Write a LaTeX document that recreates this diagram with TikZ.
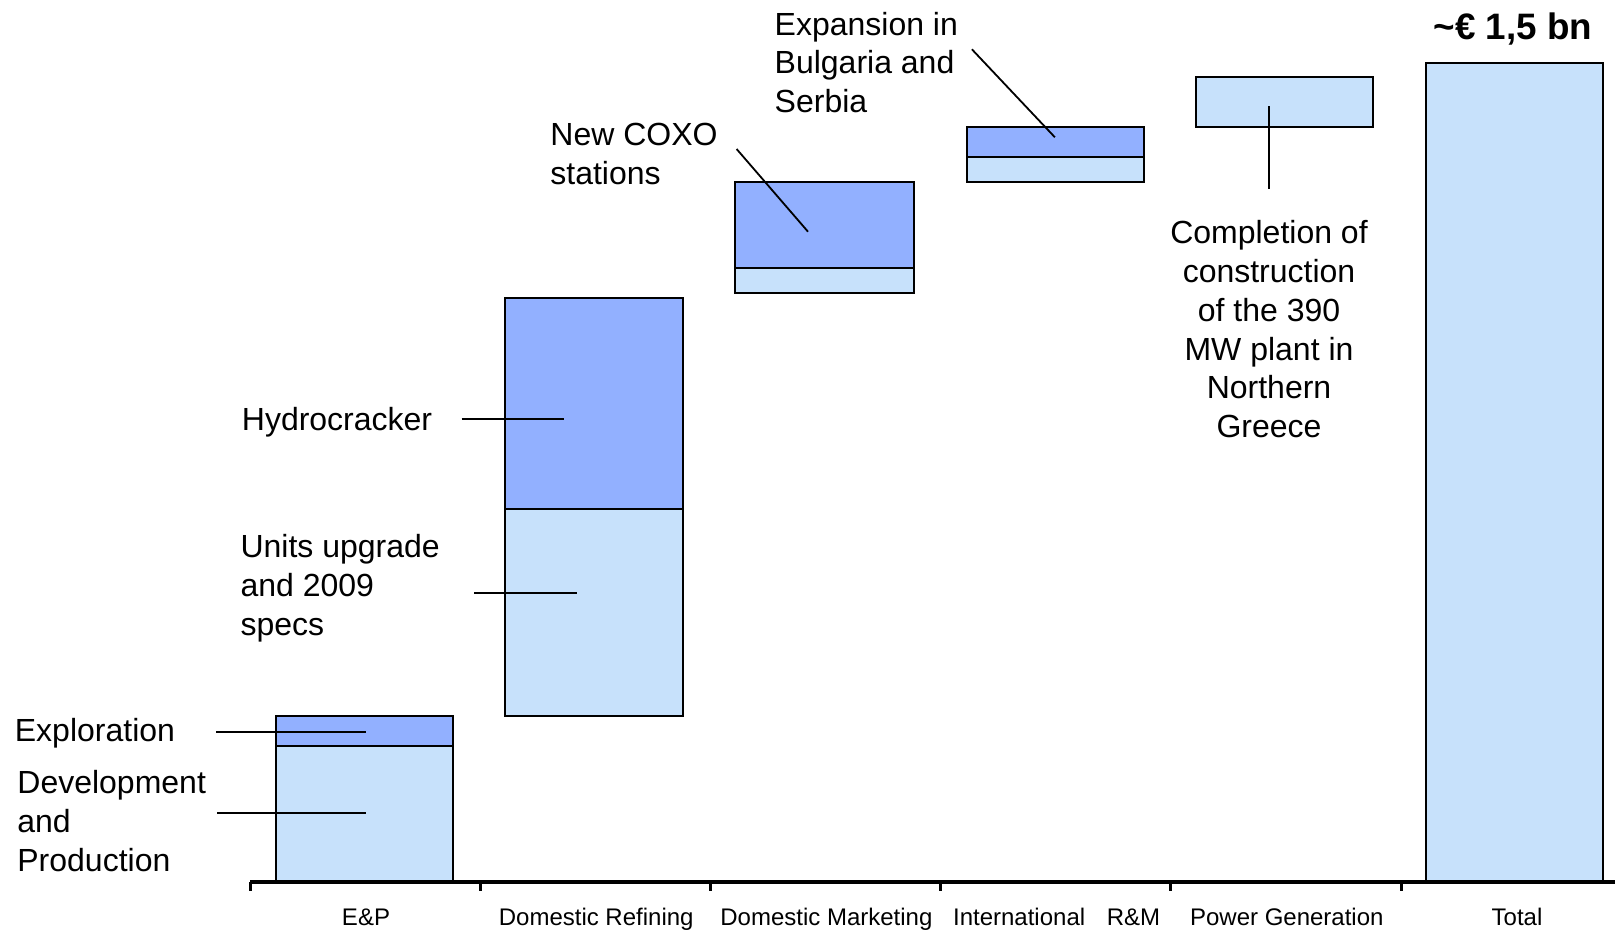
\documentclass[tikz,border=0pt]{standalone}
\usepackage{fontspec}
\setmainfont{Liberation Sans}
\usetikzlibrary{positioning,calc}
\definecolor{capdark}{RGB}{146,176,255}
\definecolor{caplight}{RGB}{199,225,251}
\tikzset{  seg/.style={draw,line width=1pt},
  dseg/.style={seg,fill=capdark},
  lseg/.style={seg,fill=caplight},
  lbl/.style={inner sep=0pt,font=\fontsize{16}{19.4}\selectfont,align=left},
  catlbl/.style={inner sep=0pt,anchor=base,font=\fontsize{12}{14}\selectfont},
  lead/.style={line width=0.9pt} }

\begin{document}
\begin{tikzpicture}[x=0.5pt,y=-0.5pt]
    \useasboundingbox (0,0) rectangle (1615,932);
    % bars
    \draw[lseg] (275.7,745.7) rectangle (453.3,881);
    \draw[dseg] (275.7,716) rectangle (453.3,745.7);
    \draw[lseg] (505.3,509.3) rectangle (682.7,715.7);
    \draw[dseg] (505.3,298.3) rectangle (682.7,509.3);
    \draw[lseg] (735.3,268.3) rectangle (914.3,293.3);
    \draw[dseg] (735.3,182) rectangle (914.3,268.3);
    \draw[lseg] (966.5,156.7) rectangle (1144.2,182);
    \draw[dseg] (966.5,127) rectangle (1144.2,156.7);
    \draw[lseg] (1195.7,77.3) rectangle (1373.3,127.3);
    \draw[lseg] (1425.7,63.3) rectangle (1603.3,881);
    % axis
    \draw[line width=2pt] (250,882) -- (1615,882);
    \foreach \i in {0,...,5}
      \draw[line width=1.5pt] ({250+230.2*\i},882) -- ++(0,9);
    \foreach \name [count=\i from 0] in {E\&P,Domestic Refining,Domestic Marketing,International\hspace{0.9em}R\&M,Power Generation,Total}
      \node[catlbl] (cat\i) at ({366+230.2*\i},925) {\name};
    % labels (base = last line)
    \node[lbl,anchor=base west] (expl) at (14.5,741.7) {Exploration};
    \node[lbl,anchor=base west] (devp) at (17,871) {Development\\and\\Production};
    \node[lbl,anchor=base west] (hydro) at (241.5,430) {Hydrocracker};
    \node[lbl,anchor=base west] (units) at (240.2,635) {Units upgrade\\and 2009\\specs};
    \node[lbl,anchor=base west] (coxo) at (550,184.3) {New COXO\\stations};
    \node[lbl,anchor=base west] (expan) at (774.3,112.7) {Expansion in\\Bulgaria and\\Serbia};
    \node[lbl,align=center,anchor=base] (compl) at (1269,437.7) {Completion of\\construction\\of the 390\\MW plant in\\Northern\\Greece};
    \node[inner sep=0pt,anchor=base,font=\fontsize{18.4}{22}\selectfont\bfseries] (total) at (1513,39) {\textasciitilde€ 1,5 bn};
    % leaders
    \coordinate (expl-a) at (216,732);
    \coordinate (expl-b) at (366,732);
    \coordinate (devp-a) at (217,812.7);
    \coordinate (devp-b) at (366.3,812.7);
    \coordinate (hydro-a) at (461.7,419);
    \coordinate (hydro-b) at (564.3,419);
    \coordinate (units-a) at (474,593.3);
    \coordinate (units-b) at (576.7,593.3);
    \coordinate (coxo-a) at (736.6,149);
    \coordinate (coxo-b) at (808,231.7);
    \coordinate (expan-a) at (971.9,49.3);
    \coordinate (expan-b) at (1054.9,137.3);
    \coordinate (compl-a) at (1269.3,106);
    \coordinate (compl-b) at (1269.3,189.3);
    \foreach \ld in {expl,devp,hydro,units,coxo,expan,compl}
      \draw[lead] (\ld-a) -- (\ld-b);
\end{tikzpicture}
\end{document}
